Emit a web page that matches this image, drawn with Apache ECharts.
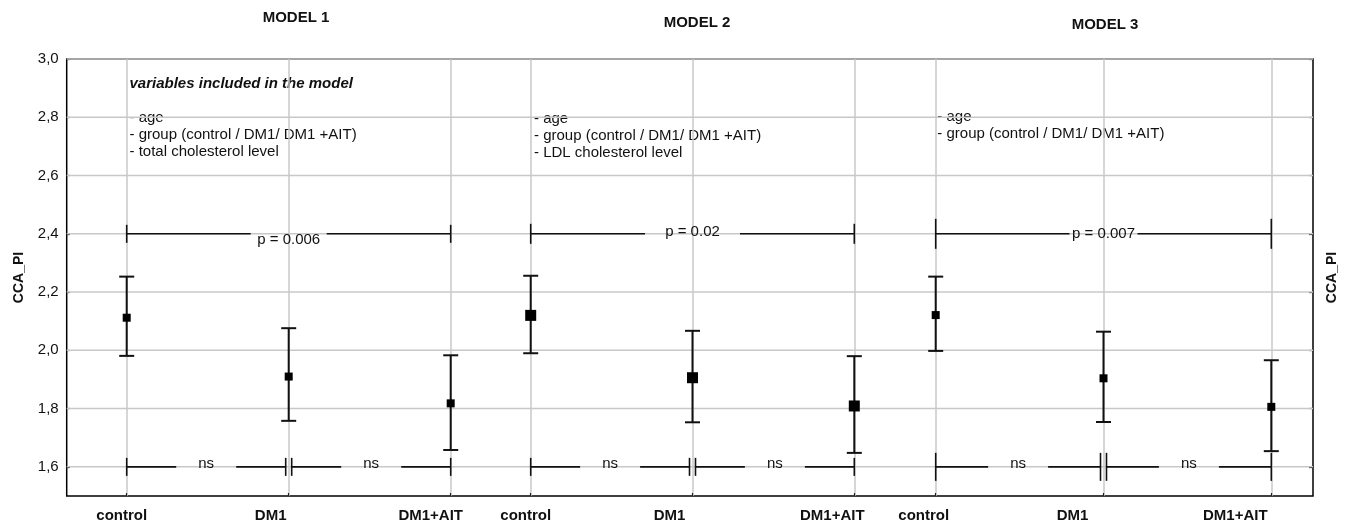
<!DOCTYPE html>
<html><head><meta charset="utf-8">
<script src="https://cdn.jsdelivr.net/npm/echarts@6/dist/echarts.min.js"></script>
<style>html,body{margin:0;padding:0;background:#fff}#c{width:1349px;height:525px}</style>
</head><body><div id="c"></div>
<script>
// ---------- data ----------
const categories = ['control', 'DM1', 'DM1+AIT'];
const modelTitles = ['MODEL 1', 'MODEL 2', 'MODEL 3'];
const yTickValues = [1.6, 1.8, 2.0, 2.2, 2.4, 2.6, 2.8, 3.0];

const model1Mean = [2.112, 1.910, 1.818];
const model1Low  = [1.981, 1.758, 1.658];
const model1High = [2.253, 2.076, 1.983];

const model2Mean = [2.120, 1.906, 1.809];
const model2Low  = [1.990, 1.753, 1.648];
const model2High = [2.256, 2.067, 1.980];

const model3Mean = [2.121, 1.904, 1.806];
const model3Low  = [1.998, 1.754, 1.654];
const model3High = [2.253, 2.064, 1.966];

const comparisonPairs = [[0, 2], [0, 1], [1, 2]];
const comparisonLevels = [2.4, 1.6, 1.6];
const model1Labels = ['p = 0.006', 'ns', 'ns'];
const model2Labels = ['p = 0.02', 'ns', 'ns'];
const model3Labels = ['p = 0.007', 'ns', 'ns'];

const annotationHeading = 'variables included in the model';
const model1Vars = ['- age', '- group (control / DM1/ DM1 +AIT)', '- total cholesterol level'];
const model2Vars = ['- age', '- group (control / DM1/ DM1 +AIT)', '- LDL cholesterol level'];
const model3Vars = ['- age', '- group (control / DM1/ DM1 +AIT)'];

// ---------- styles / layout ----------
const FONT = '"Liberation Sans", Arial, Helvetica, sans-serif';
const INK = '#111';
const GRIDC = '#c8c8c8';
const W = 1349, H = 525;
const frame = { left: 66.7, right: W - 1313, top: 59, bottom: H - 496 };

const models = [
  { mean: model1Mean, low: model1Low, high: model1High, labels: model1Labels, vars: model1Vars },
  { mean: model2Mean, low: model2Low, high: model2High, labels: model2Labels, vars: model2Vars },
  { mean: model3Mean, low: model3Low, high: model3High, labels: model3Labels, vars: model3Vars }
];
const panelStyle = [
  { left: 126.7, right: W - 450.7, marker: 8,  shift: [5, 18, 20], pGap: 76, pTick: 9,  nsTick: 9,  pDy: 6,  varsX: 129.5, varsTop: 109.5, headingTop: 76.5,
    titleX: 296, titleTop: 10 },
  { left: 530.7, right: W - 854.3, marker: 11, shift: [5, 23, 22], pGap: 95, pTick: 10, nsTick: 9,  pDy: -2, varsX: 534,   varsTop: 110.5,
    titleX: 697, titleTop: 15 },
  { left: 935.7, right: W - 1271.3, marker: 8, shift: [12, 31, 36], pGap: 68, pTick: 15, nsTick: 14, pDy: 0,  varsX: 937.3, varsTop: 108.5,
    titleX: 1105, titleTop: 17 }
];

const grids = [Object.assign({ show: true, borderColor: '#000', borderWidth: 1.5, backgroundColor: 'transparent' }, frame)];
const xAxes = [{ type: 'value', gridIndex: 0, min: 0, max: 1, show: false }];
const yAxes = [
  {
    type: 'value', gridIndex: 0, min: 1.5, max: 3.0, interval: 0.1, position: 'left',
    axisLine: { show: false },
    axisTick: { show: true, inside: true, length: 3, customValues: yTickValues, lineStyle: { color: '#000', width: 1.2 } },
    axisLabel: {
      customValues: yTickValues, margin: 8, fontSize: 15, color: INK, fontFamily: FONT,
      formatter: v => (Math.round(v * 10) % 2 === 0 ? v.toFixed(1).replace('.', ',') : '')
    },
    splitLine: { show: false },
    name: 'CCA_PI', nameLocation: 'middle', nameGap: 41, nameRotate: 90,
    nameTextStyle: { fontSize: 14, fontWeight: 'bold', color: INK, fontFamily: FONT }
  },
  {
    type: 'value', gridIndex: 0, min: 1.5, max: 3.0, interval: 0.1, position: 'right',
    axisLine: { show: false },
    axisTick: { show: true, inside: true, length: 4, customValues: yTickValues, lineStyle: { color: '#000', width: 1.2 } },
    axisLabel: { show: false },
    splitLine: { show: false },
    name: 'CCA_PI', nameLocation: 'middle', nameGap: 12, nameRotate: 90,
    nameTextStyle: { fontSize: 14, fontWeight: 'bold', color: INK, fontFamily: FONT }
  }
];

const series = [{
  type: 'custom', xAxisIndex: 0, yAxisIndex: 0, silent: true, z: 1,
  data: yTickValues.map(v => [0, v]),
  renderItem: (params, api) => {
    const p = api.coord([0, api.value(1)]);
    const cs = params.coordSys;
    return { type: 'line', shape: { x1: cs.x, y1: p[1], x2: cs.x + cs.width, y2: p[1] },
      style: { stroke: GRIDC, lineWidth: 1.5 } };
  }
}];

const titles = [];
const graphics = [];

models.forEach((m, i) => {
  const st = panelStyle[i];
  grids.push({ left: st.left, right: st.right, top: frame.top, bottom: frame.bottom });
  const rich = {};
  st.shift.forEach((s, k) => {
    rich['s' + k] = { padding: [0, 2 * s, 0, 0], fontSize: 15, fontWeight: 'bold', color: INK, fontFamily: FONT, lineHeight: 16 };
  });
  xAxes.push({
    type: 'category', gridIndex: i + 1, data: categories, boundaryGap: false,
    axisLine: { show: false },
    axisTick: { show: true, inside: true, length: 3, interval: 0, lineStyle: { color: '#222', width: 1.2 } },
    axisLabel: { interval: 0, margin: 12, formatter: (v, idx) => '{s' + idx + '|' + v + '}', rich: rich },
    splitLine: { show: true, interval: 0, lineStyle: { color: GRIDC, width: 1.5 } }
  });
  yAxes.push({ type: 'value', gridIndex: i + 1, min: 1.5, max: 3.0, show: false, splitLine: { show: false } });

  const xi = i + 1, yi = i + 2;
  // error bars
  series.push({
    type: 'custom', xAxisIndex: xi, yAxisIndex: yi, z: 3, silent: true, clip: false,
    data: categories.map((c, k) => [k, m.low[k], m.high[k]]),
    renderItem: (params, api) => {
      const x = api.value(0);
      const lo = api.coord([x, api.value(1)]);
      const hi = api.coord([x, api.value(2)]);
      const hw = 7.5;
      const s = { stroke: INK, lineWidth: 2 };
      return { type: 'group', children: [
        { type: 'line', shape: { x1: lo[0], y1: lo[1], x2: hi[0], y2: hi[1] }, style: s },
        { type: 'line', shape: { x1: lo[0] - hw, y1: lo[1], x2: lo[0] + hw, y2: lo[1] }, style: s },
        { type: 'line', shape: { x1: hi[0] - hw, y1: hi[1], x2: hi[0] + hw, y2: hi[1] }, style: s }
      ] };
    }
  });
  // means
  series.push({
    type: 'scatter', xAxisIndex: xi, yAxisIndex: yi, z: 4, silent: true,
    symbol: 'rect', symbolSize: st.marker, itemStyle: { color: '#000', opacity: 1 },
    data: m.mean.map((v, k) => [k, v])
  });
  // comparison brackets
  series.push({
    type: 'custom', xAxisIndex: xi, yAxisIndex: yi, z: 5, silent: true, clip: false,
    data: comparisonPairs.map((p, k) => [p[0], p[1], comparisonLevels[k], k]),
    renderItem: (params, api) => {
      const a = api.value(0), b = api.value(1), y = api.value(2), k = api.value(3);
      const p0 = api.coord([a, y]), p1 = api.coord([b, y]);
      const isP = k === 0;
      const tick = isP ? st.pTick : st.nsTick;
      const gap = isP ? st.pGap : 60;
      const x0 = p0[0] + (a === 1 ? 3 : 0);
      const x1 = p1[0] - (b === 1 ? 3 : 0);
      const mid = (x0 + x1) / 2, yy = p0[1];
      const s = { stroke: INK, lineWidth: 1.6 };
      return { type: 'group', children: [
        { type: 'line', shape: { x1: x0, y1: yy, x2: mid - gap / 2, y2: yy }, style: s },
        { type: 'line', shape: { x1: mid + gap / 2, y1: yy, x2: x1, y2: yy }, style: s },
        { type: 'line', shape: { x1: x0, y1: yy - tick, x2: x0, y2: yy + tick }, style: s },
        { type: 'line', shape: { x1: x1, y1: yy - tick, x2: x1, y2: yy + tick }, style: s },
        { type: 'text', x: mid, y: yy + (isP ? st.pDy : -3),
          style: { text: m.labels[k], fontSize: 15, fontFamily: FONT, fill: INK, align: 'center', verticalAlign: 'middle' } }
      ] };
    }
  });

  titles.push({
    text: modelTitles[i], left: st.titleX, top: st.titleTop, textAlign: 'center', padding: 0,
    textStyle: { fontSize: 15, fontWeight: 'bold', color: INK, fontFamily: FONT }
  });
  if (i === 0) {
    graphics.push({ type: 'text', left: st.varsX, top: st.headingTop, silent: true,
      style: { text: annotationHeading, fontSize: 15, fontWeight: 'bold', fontStyle: 'italic', fontFamily: FONT, fill: INK } });
  }
  graphics.push({ type: 'text', left: st.varsX, top: st.varsTop, silent: true,
    style: { text: m.vars.join('\n'), fontSize: 15, lineHeight: 17, fontFamily: FONT, fill: INK } });
});

const chart = echarts.init(document.getElementById('c'), null, { renderer: 'canvas' });
chart.setOption({
  backgroundColor: '#fff',
  animation: false,
  title: titles,
  grid: grids,
  xAxis: xAxes,
  yAxis: yAxes,
  series: series,
  graphic: graphics
});
</script>
</body></html>
